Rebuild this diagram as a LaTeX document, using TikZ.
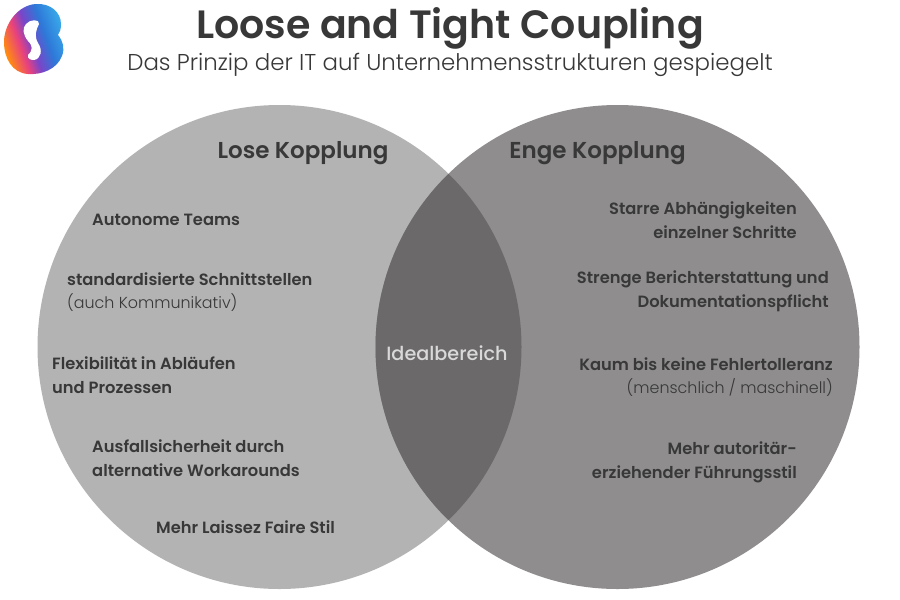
\documentclass[tikz,border=0pt]{standalone}
\usepackage{fontspec}
\setmainfont{Poppins}
\newfontfamily\medfont{Poppins Medium}
\newfontfamily\semifont{Poppins SemiBold}
\newfontfamily\lightfont{Poppins Light}
\usetikzlibrary{positioning}
\definecolor{txt}{HTML}{383838}
\definecolor{leftgray}{HTML}{B3B3B3}
\definecolor{rightgray}{HTML}{8F8D8D}
\definecolor{midgray}{HTML}{6B6969}
\definecolor{logoorange}{HTML}{FF8A12}
\definecolor{logopink}{HTML}{E8417E}
\definecolor{logoviolet}{HTML}{7A45C8}
\definecolor{logoblue}{HTML}{2E78D8}
\definecolor{logocyan}{HTML}{3CB6EE}
\pgfdeclarehorizontalshading{logoshade}{100bp}{color(0bp)=(logoorange); color(36bp)=(logoorange);
  color(43bp)=(logopink); color(48bp)=(logoviolet); color(55bp)=(logoblue); color(66bp)=(logocyan); color(100bp)=(logocyan)}
\begin{document}
\begin{tikzpicture}[x=1pt,y=-1pt,
  head/.style={font=\semifont\fontsize{23}{24}\selectfont,text=txt,inner sep=0pt,anchor=center},
  item/.style={font=\semifont\fontsize{16.3}{24}\selectfont,text=txt,inner sep=0pt},
  itemleft/.style={item,anchor=west,align=left},
  itemright/.style={item,anchor=east,align=right},
  thin text/.style={font=\lightfont\fontsize{15.9}{24}\selectfont,text=txt,inner sep=0pt}]
  \useasboundingbox (0,0) rectangle (900,600);
  \fill[white] (0,0) rectangle (900,600);
  % circles
  \fill[leftgray] (279.5,347) circle (242);
  \fill[rightgray] (617.5,347) circle (242);
  \begin{scope}
    \clip (279.5,347) circle (242);
    \fill[midgray] (617.5,347) circle (242);
  \end{scope}
  % logo
  \begin{scope}
    \clip (36,4) .. controls (50,3) and (61,12) .. (61,24) .. controls (61,29) and (60,32) .. (58,35)
      .. controls (63,41) and (65,48) .. (62,56) .. controls (57,69) and (42,75) .. (28,74)
      .. controls (12,73) and (4,58) .. (4,42) .. controls (4,24) and (18,5) .. (36,4) -- cycle;
    \shade[shading=logoshade,shading angle=20] (-20,-20) rectangle (90,100);
  \end{scope}
  \fill[white] (26,24) .. controls (30,19) and (40,19) .. (39,24) .. controls (36,30) and (34,36) .. (38,43)
    .. controls (43,50) and (41,59) .. (34,60) .. controls (31,60) and (27,59) .. (28,55)
    .. controls (33,50) and (33,46) .. (28,41) .. controls (23,35) and (22,28) .. (26,24) -- cycle;
  % title
  \node[font=\semifont\fontsize{39.5}{40}\selectfont,text=txt,inner sep=0pt] (title) at (450,28) {Loose and Tight Coupling};
  \node[font=\lightfont\fontsize{22.9}{24}\selectfont,text=txt,inner sep=0pt] (subtitle) at (450,65) {Das Prinzip der IT auf Unternehmensstrukturen gespiegelt};
  % left side
  \node[head] (lose) at (303,153) {Lose Kopplung};
  \node[itemleft] (auto) at (92,220) {Autonome Teams};
  \node[itemleft] (schnitt) at (67,279) {standardisierte Schnittstellen};
  \node[thin text,anchor=west] (komm) at (67,303) {(auch Kommunikativ)};
  \node[itemleft] (flex) at (52,375) {Flexibilität in Abläufen\\und Prozessen};
  \node[itemleft] (ausfall) at (92,458) {Ausfallsicherheit durch\\alternative Workarounds};
  \node[itemleft] (laissez) at (156,527) {Mehr Laissez Faire Stil};
  % middle
  \node[font=\medfont\fontsize{19.2}{24}\selectfont,text=white!85!black,inner sep=0pt] (ideal) at (447,353) {Idealbereich};
  % right side
  \node[head] (enge) at (597.5,153) {Enge Kopplung};
  \node[itemright] (starre) at (797,220) {Starre Abhängigkeiten\\einzelner Schritte};
  \node[itemright] (streng) at (829,291) {Strenge Berichterstattung und\\Dokumentationspflicht};
  \node[itemright] (kaum) at (833,364) {Kaum bis keine Fehlertolleranz};
  \node[thin text,anchor=east] (mensch) at (833,388) {(menschlich / maschinell)};
  \node[itemright] (stil) at (797,462) {Mehr autoritär-\\erziehender Führungsstil};
\end{tikzpicture}
\end{document}
